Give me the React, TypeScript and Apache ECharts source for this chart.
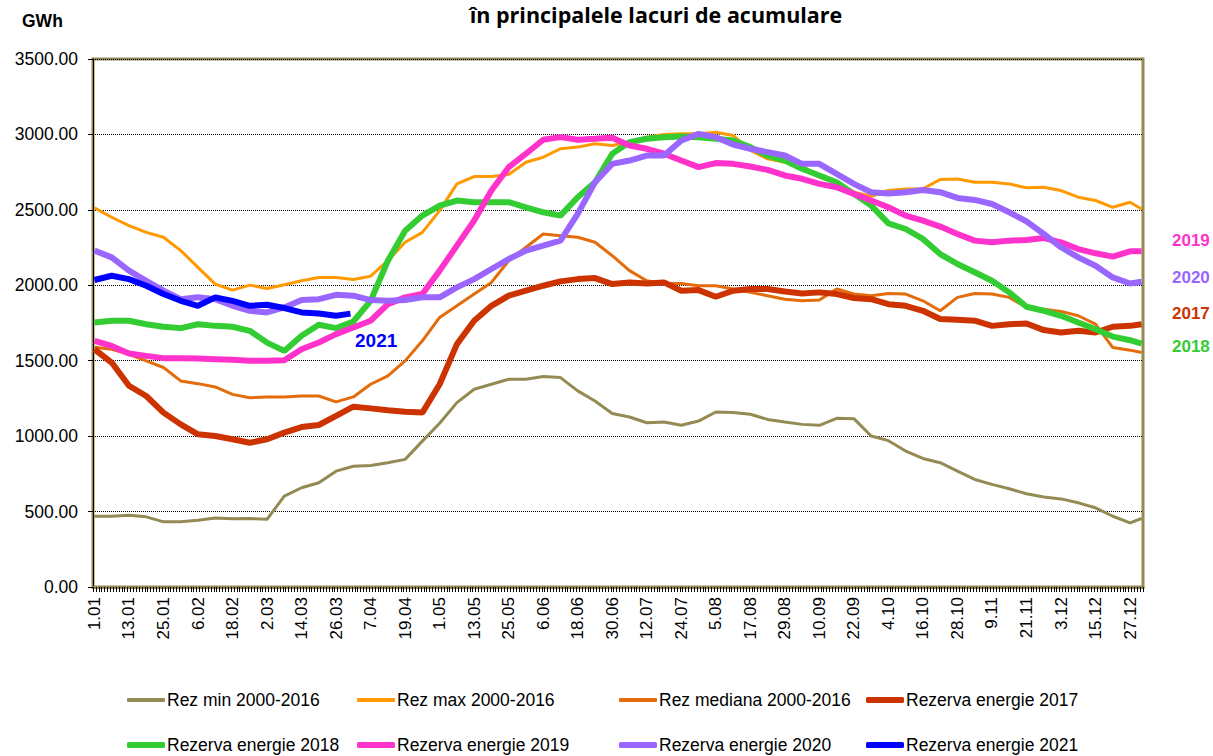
import React, { useEffect, useRef } from "react";
import * as echarts from "echarts";

// ---- categories (days of a non-leap year, "d.mm") ----
const monthLengths = [31, 28, 31, 30, 31, 30, 31, 31, 30, 31, 30, 31];
const categories: string[] = [];
monthLengths.forEach((n, m) => {
  for (let d = 1; d <= n; d++) categories.push(`${d}.${String(m + 1).padStart(2, "0")}`);
});

const sampleDays = [
  0, 6, 12, 18, 24, 30, 36, 42, 48, 54, 60, 66, 72, 78, 84, 90, 96, 102, 108, 114, 120,
  126, 132, 138, 144, 150, 156, 162, 168, 174, 180, 186, 192, 198, 204, 210, 216, 222,
  228, 234, 240, 246, 252, 258, 264, 270, 276, 282, 288, 294, 300, 306, 312, 318, 324,
  330, 336, 342, 348, 354, 360, 364,
];
const days2021 = [0, 6, 12, 18, 24, 30, 36, 42, 48, 54, 60, 66, 72, 78, 84, 89];

const rezMin = [
  469, 469, 476, 465, 432, 432, 443, 458, 452, 454, 449, 602, 658, 691, 768, 800, 806, 824,
  846, 967, 1085, 1222, 1311, 1344, 1377, 1377, 1395, 1388, 1300, 1233, 1150, 1127, 1089,
  1094, 1072, 1100, 1160, 1156, 1145, 1111, 1094, 1078, 1072, 1118, 1116, 1001, 970, 901,
  852, 824, 768, 713, 680, 651, 618, 596, 584, 558, 525, 469, 425, 454,
];
const rezMax = [
  2513, 2451, 2396, 2351, 2318, 2230, 2119, 2008, 1968, 2001, 1979, 2004, 2030, 2052, 2052,
  2038, 2060, 2163, 2285, 2351, 2495, 2672, 2721, 2721, 2734, 2816, 2849, 2905, 2916, 2938,
  2927, 2950, 2982, 3000, 3004, 3004, 3015, 2993, 2894, 2838, 2816, 2794, 2716, 2683, 2617,
  2590, 2628, 2639, 2639, 2701, 2705, 2683, 2683, 2672, 2646, 2650, 2628, 2584, 2562, 2517,
  2550, 2506,
];
const rezMediana = [
  1590, 1576, 1543, 1499, 1455, 1366, 1348, 1326, 1277, 1255, 1260, 1260, 1266, 1266, 1227,
  1260, 1344, 1399, 1499, 1632, 1787, 1864, 1942, 2019, 2163, 2252, 2340, 2329, 2318, 2285,
  2196, 2097, 2030, 2012, 2012, 1997, 1997, 1975, 1953, 1931, 1908, 1897, 1902, 1975, 1942,
  1931, 1946, 1942, 1897, 1831, 1920, 1946, 1942, 1920, 1853, 1842, 1827, 1798, 1742, 1587,
  1570, 1554,
];
const rez2017 = [
  1576, 1488, 1334, 1266, 1156, 1078, 1012, 1001, 979, 956, 979, 1023, 1060, 1074, 1134,
  1195, 1184, 1171, 1162, 1156, 1344, 1610, 1765, 1864, 1931, 1964, 1997, 2026, 2041, 2048,
  2008, 2019, 2012, 2019, 1964, 1968, 1924, 1964, 1975, 1975, 1959, 1946, 1953, 1942, 1916,
  1908, 1875, 1864, 1831, 1776, 1771, 1765, 1731, 1742, 1747, 1703, 1687, 1698, 1687, 1725,
  1731, 1742,
];
const rez2018 = [
  1753, 1765, 1765, 1742, 1725, 1716, 1742, 1731, 1725, 1698, 1620, 1565, 1665, 1738, 1716,
  1760, 1897, 2163, 2362, 2462, 2528, 2562, 2551, 2551, 2551, 2517, 2484, 2462, 2584, 2683,
  2872, 2949, 2971, 2982, 2987, 2982, 2971, 2960, 2916, 2860, 2827, 2772, 2728, 2683, 2606,
  2528, 2410, 2373, 2307, 2207, 2141, 2086, 2030, 1953, 1858, 1831, 1798, 1753, 1709, 1660,
  1636, 1614,
];
const rez2019 = [
  1632, 1598, 1548, 1532, 1517, 1517, 1514, 1510, 1506, 1499, 1499, 1503, 1576, 1621, 1676,
  1720, 1765, 1875, 1920, 1942, 2097, 2263, 2429, 2628, 2783, 2872, 2965, 2982, 2965, 2971,
  2978, 2927, 2905, 2872, 2827, 2783, 2810, 2805, 2787, 2765, 2728, 2706, 2672, 2650, 2606,
  2562, 2517, 2462, 2429, 2389, 2340, 2296, 2285, 2296, 2300, 2313, 2285, 2240, 2212, 2190,
  2225, 2225,
];
const rez2020 = [
  2230, 2185, 2097, 2030, 1964, 1908, 1920, 1908, 1864, 1831, 1820, 1853, 1902, 1908, 1937,
  1931, 1902, 1897, 1902, 1920, 1920, 1986, 2041, 2108, 2174, 2230, 2263, 2296, 2473, 2683,
  2805, 2827, 2860, 2860, 2960, 3004, 2982, 2933, 2905, 2883, 2860, 2805, 2805, 2739, 2672,
  2617, 2608, 2617, 2632, 2617, 2579, 2566, 2539, 2484, 2424, 2340, 2252, 2185, 2130, 2052,
  2012, 2023,
];
const rez2021 = [2035, 2063, 2041, 1997, 1942, 1897, 1864, 1920, 1897, 1864, 1871, 1849, 1820, 1813, 1798, 1812];

const seriesNames = [
  "Rez min 2000-2016",
  "Rez max 2000-2016",
  "Rez mediana 2000-2016",
  "Rezerva energie 2017",
  "Rezerva energie 2018",
  "Rezerva energie 2019",
  "Rezerva energie 2020",
  "Rezerva energie 2021",
];
const seriesValues = [rezMin, rezMax, rezMediana, rez2017, rez2018, rez2019, rez2020, rez2021];
const seriesColors = ["#948A54", "#FF9900", "#E46C0A", "#CC3300", "#33CC33", "#FF33CC", "#9966FF", "#0000FF"];
const seriesWidths = [3, 3, 3, 6, 6, 6, 6, 6];

const yTicks = [0, 500, 1000, 1500, 2000, 2500, 3000, 3500];

const FONT = "Arial, 'Liberation Sans', sans-serif";

export default function App() {
  const ref = useRef<HTMLDivElement>(null);

  useEffect(() => {
    if (!ref.current) return;
    const chart = echarts.init(ref.current, undefined, { renderer: "svg" });

    const series = seriesNames.map((name, i) => {
      const days = i === 7 ? days2021 : sampleDays;
      return {
        name,
        type: "line",
        data: seriesValues[i].map((v, k) => [days[k], v]),
        showSymbol: false,
        symbol: "none",
        lineStyle: { color: seriesColors[i], width: seriesWidths[i] },
        itemStyle: { color: seriesColors[i] },
        z: 2 + i,
      };
    });

    const legendPos = [
      [127, 691], [357, 691], [619, 691], [866, 691],
      [127, 736], [357, 736], [619, 736], [866, 736],
    ];
    const legend = seriesNames.map((name, i) => ({
      data: [{ name, icon: "roundRect" }],
      left: legendPos[i][0],
      top: legendPos[i][1],
      itemWidth: 38,
      itemHeight: i < 3 ? 4 : 6,
      itemGap: 0,
      padding: 0,
      textStyle: { fontFamily: FONT, fontSize: 17.5, color: "#000", padding: [0, 0, 0, -3] },
      selectedMode: false,
    }));

    chart.setOption({
      animation: false,
      backgroundColor: "#fff",
      grid: {
        left: 93,
        top: 59,
        width: 1050,
        height: 528,
        show: true,
        backgroundColor: "#fff",
        borderColor: "#948A54",
        borderWidth: 3,
      },
      legend,
      xAxis: {
        type: "category",
        data: categories,
        boundaryGap: true,
        axisLine: { show: true, lineStyle: { color: "#948A54", width: 3 } },
        axisTick: { show: true, interval: 0, length: 5, lineStyle: { color: "#000", width: 1 } },
        axisLabel: {
          interval: 11,
          rotate: 90,
          margin: 10,
          fontFamily: FONT,
          fontSize: 17,
          color: "#000",
        },
        splitLine: { show: false },
      },
      yAxis: {
        type: "value",
        min: yTicks[0],
        max: yTicks[yTicks.length - 1],
        interval: 500,
        axisLine: { show: true, lineStyle: { color: "#000", width: 1 } },
        axisTick: { show: true, length: 5, lineStyle: { color: "#000" } },
        axisLabel: {
          formatter: (v: number) => v.toFixed(2),
          fontFamily: FONT,
          fontSize: 17.5,
          color: "#000",
          margin: 15,
        },
        splitLine: { show: true, lineStyle: { color: "#000", width: 1, type: [1, 1] } },
      },
      graphic: [
        {
          type: "text",
          x: 656,
          y: 14,
          style: {
            text: "în principalele lacuri de acumulare",
            fontFamily: "'Open Sans', 'Noto Sans', sans-serif",
            fontWeight: "bold",
            fontSize: 21.5,
            fill: "#000",
            align: "center",
            verticalAlign: "middle",
          },
        },
        {
          type: "text",
          x: 22,
          y: 21,
          style: {
            text: "GWh",
            fontFamily: FONT,
            fontWeight: "bold",
            fontSize: 17.5,
            fill: "#000",
            verticalAlign: "middle",
          },
        },
        {
          type: "text",
          x: 355,
          y: 340,
          style: { text: "2021", fontFamily: FONT, fontWeight: "bold", fontSize: 19, fill: "#0000FF", verticalAlign: "middle" },
        },
        {
          type: "text",
          x: 1172,
          y: 240,
          style: { text: "2019", fontFamily: FONT, fontWeight: "bold", fontSize: 17, fill: "#FF33CC", verticalAlign: "middle" },
        },
        {
          type: "text",
          x: 1172,
          y: 277,
          style: { text: "2020", fontFamily: FONT, fontWeight: "bold", fontSize: 17, fill: "#9966FF", verticalAlign: "middle" },
        },
        {
          type: "text",
          x: 1172,
          y: 313,
          style: { text: "2017", fontFamily: FONT, fontWeight: "bold", fontSize: 17, fill: "#CC3300", verticalAlign: "middle" },
        },
        {
          type: "text",
          x: 1172,
          y: 346,
          style: { text: "2018", fontFamily: FONT, fontWeight: "bold", fontSize: 17, fill: "#33CC33", verticalAlign: "middle" },
        },
      ],
      series,
    });

    return () => chart.dispose();
  }, []);

  return (
    <div
      ref={ref}
      style={{ position: "fixed", left: 0, top: 0, width: 1213, height: 756, background: "#fff" }}
    />
  );
}
